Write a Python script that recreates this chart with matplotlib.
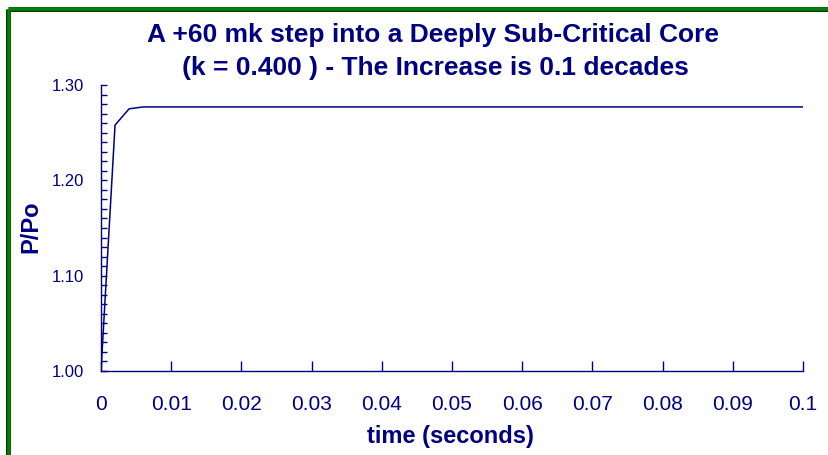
import matplotlib
matplotlib.use("Agg")
import matplotlib.pyplot as plt
from matplotlib.lines import Line2D

plt.rcParams['font.family'] = ['Liberation Sans', 'DejaVu Sans']

# data
time_s = [0.0, 0.002, 0.004, 0.006, 0.1]
power_ratio = [1.0, 1.258, 1.275, 1.277, 1.277]

x_ticks = [0, 0.01, 0.02, 0.03, 0.04, 0.05, 0.06, 0.07, 0.08, 0.09, 0.1]
x_labels = ["0", "0.01", "0.02", "0.03", "0.04", "0.05", "0.06", "0.07", "0.08", "0.09", "0.1"]
y_ticks = [1.0, 1.1, 1.2, 1.3]
y_labels = ["1.00", "1.10", "1.20", "1.30"]

navy = "#000080"

fig = plt.figure(figsize=(8.29, 4.55), dpi=100)
W, H = 829, 455

# green frame (top and left visible), with a thin dark outer edge
for c, lw, off in [("#103010", 3.6, 8.5), ("#008000", 2.6, 8.8)]:
    fig.add_artist(Line2D([off / W, off / W], [0, 1 - off / H], transform=fig.transFigure,
                          color=c, lw=lw, solid_capstyle="butt"))
    fig.add_artist(Line2D([off / W, 1], [1 - off / H, 1 - off / H], transform=fig.transFigure,
                          color=c, lw=lw, solid_capstyle="butt"))

ax = fig.add_axes([101 / W, 1 - 371 / H, 702 / W, 286 / H])
ax.plot(time_s, power_ratio, color=navy, lw=1.1)

ax.set_xlim(0, 0.1)
ax.set_ylim(1.0, 1.3)
ax.set_xticks(x_ticks)
ax.set_xticklabels(x_labels)
ax.set_yticks(y_ticks)
ax.set_yticklabels(y_labels)
ax.set_yticks([1.0 + 0.01 * i for i in range(31)], minor=True)

for s in ["top", "right"]:
    ax.spines[s].set_visible(False)
for s in ["left", "bottom"]:
    ax.spines[s].set_color(navy)
    ax.spines[s].set_linewidth(1.0)

ax.tick_params(axis="x", direction="in", length=7, width=1, color=navy,
               labelcolor=navy, labelsize=15, pad=17)
ax.tick_params(axis="y", which="both", direction="in", length=4, width=1, color=navy,
               labelcolor=navy, labelsize=12, pad=12)

fig.text(433 / W, 1 - 35 / H, "A +60 mk step into a Deeply Sub-Critical Core",
         ha="center", va="center", fontsize=19, fontweight="bold", color=navy)
fig.text(435 / W, 1 - 68 / H, "(k = 0.400 ) - The Increase is 0.1 decades",
         ha="center", va="center", fontsize=19, fontweight="bold", color=navy)
fig.text(450 / W, 1 - 437 / H, "time (seconds)", ha="center", va="center",
         fontsize=17, fontweight="bold", color=navy)
fig.text(31 / W, 1 - 227 / H, "P/Po", ha="center", va="center", rotation=90,
         fontsize=17, fontweight="bold", color=navy)

fig.savefig("out.png", dpi=100)
